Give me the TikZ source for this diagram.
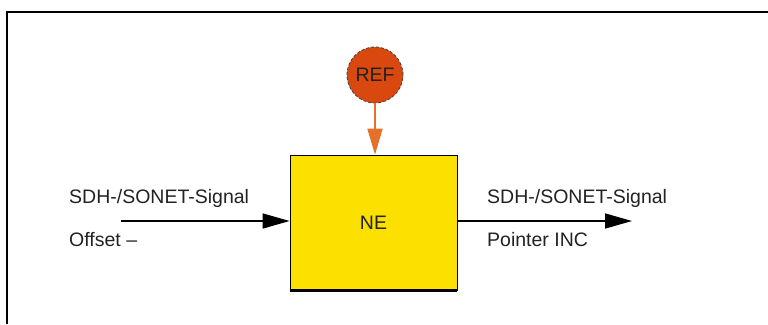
\documentclass[tikz,border=0pt]{standalone}
\usepackage{fontspec}
\setmainfont{Liberation Sans}
\usetikzlibrary{arrows.meta}

\definecolor{neyellow}{HTML}{FCE000}
\definecolor{reforange}{HTML}{D9480F}
\definecolor{refarrow}{HTML}{E5702A}
\definecolor{txtgray}{HTML}{222222}

\tikzset{
  nebox/.style={draw=black, line width=0.8pt, fill=neyellow, minimum width=167pt, minimum height=135pt, inner sep=0pt},
  refnode/.style={circle, draw=black!75, densely dashed, line width=0.8pt, fill=reforange, minimum size=56pt, inner sep=0pt},
  sig/.style={line width=1.6pt, -{Triangle[length=27pt,width=15pt]}},
  refsig/.style={line width=1.8pt, color=refarrow, -{Triangle[length=26pt,width=15pt]}},
  lbl/.style={anchor=west, inner sep=0pt, text=txtgray, font=\fontsize{19.5}{22}\selectfont}
}

\begin{document}
\begin{tikzpicture}[line cap=butt,line join=miter,x=1pt,y=-1pt]
                \useasboundingbox (0,0) rectangle (768,324);
                % frame
                \draw [line width=2.2pt] (768,12)-- (7,12)-- (7,324);
                % network element and reference
                \node [nebox] (ne) at (373.5,222.5) {\color{txtgray}\fontsize{19.5}{22}\selectfont NE};
                \draw [line width=2.6pt] (ne.south west)-- (ne.south east);
                \node [refnode] (ref) at (375,75) {\color{txtgray}\fontsize{19.5}{22}\selectfont REF};
                \draw [refsig] (ref.south)-- (ref.south |- ne.north);
                % signals
                \coordinate (in) at (121,221);
                \coordinate (out) at (632,221);
                \draw [sig] (in)-- (in -| ne.west);
                \draw [sig] (out -| ne.east)-- (out);
                \node [lbl] (insig) at (69,198) {SDH-/SONET-Signal};
                \node [lbl] (inoff) at (69,240) {Offset --};
                \node [lbl] (outsig) at (487,198) {SDH-/SONET-Signal};
                \node [lbl] (outptr) at (487,240) {Pointer INC};
\end{tikzpicture}
\end{document}
